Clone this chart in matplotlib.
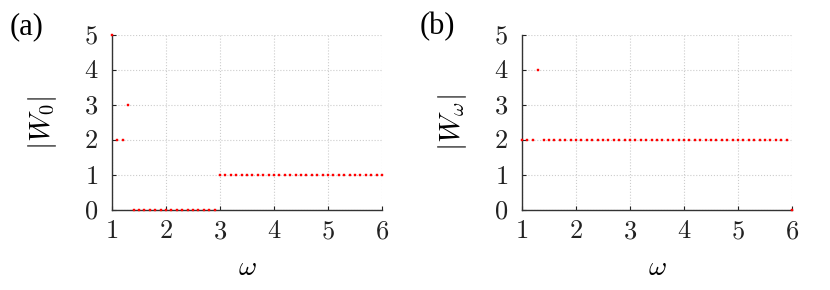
import numpy as np
import matplotlib
matplotlib.use("Agg")
import matplotlib.pyplot as plt
from matplotlib.ticker import FuncFormatter

plt.rcParams['mathtext.fontset'] = 'cm'
plt.rcParams['font.family'] = ['Liberation Serif', 'DejaVu Serif']

# omega sampled in steps of 0.1 from 1 to 6
omega = [round(1.0 + 0.1 * i, 1) for i in range(51)]

# panel (a): |W_0|
w0 = [5, 2, 2, 3] + [0] * 16 + [1] * 31

# panel (b): |W_omega|  (1.3 has 4, 6.0 has 0)
w_om = [2, 2, 2, 4] + [2] * 46 + [0]

panels = [("(a)", w0, r"$|W_0|$"), ("(b)", w_om, r"$|W_\omega|$")]

fig = plt.figure(figsize=(8.3, 2.9), dpi=100)
lefts = [112 / 830, 522 / 830]
for (tag, vals, ylab), l in zip(panels, lefts):
    ax = fig.add_axes([l, 80 / 290, 270 / 830, 175 / 290])
    ax.plot(omega, vals, 's', color='red', markersize=2.1, markeredgewidth=0.3,
            markeredgecolor='red', clip_on=False, zorder=3)
    ax.set_xlim(1, 6)
    ax.set_ylim(0, 5)
    ax.set_xticks(range(1, 7))
    ax.set_yticks(range(0, 6))
    fmt = FuncFormatter(lambda v, p: "$%d$" % v)
    ax.xaxis.set_major_formatter(fmt)
    ax.yaxis.set_major_formatter(fmt)
    ax.tick_params(direction='in', length=3, width=0.8, labelsize=19, colors='#222222', pad=8)
    ax.tick_params(axis='y', pad=10)
    ax.grid(True, linestyle=':', color='#cccccc', linewidth=0.8)
    for s in ['top', 'right']:
        ax.spines[s].set_visible(False)
    for s in ['left', 'bottom']:
        ax.spines[s].set_color('#333333')
        ax.spines[s].set_linewidth(1.0)
    ax.set_xlabel(r"$\omega$", fontsize=20, labelpad=9)
    ax.set_ylabel(ylab, fontsize=21, labelpad=18)
    fig.text(l - 102 / 830, 1 - 27 / 290, tag, fontsize=22, va='center', ha='left')

fig.savefig("out.png", dpi=100)
